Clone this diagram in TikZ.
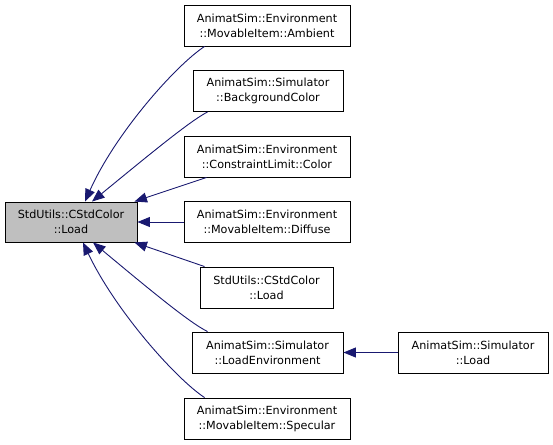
\documentclass[tikz,border=0pt]{standalone}
\usepackage{fontspec}
\setmainfont{DejaVu Sans}
\usetikzlibrary{arrows.meta}
\definecolor{edgeblue}{HTML}{191970}
\definecolor{srcgray}{HTML}{BFBFBF}
\tikzset{
  box/.style={draw=black, line width=0.9pt, fill=white, minimum height=41pt, inner sep=0pt, align=center,
    font=\fontsize{11.2}{15}\selectfont},
  edge/.style={draw=edgeblue, line width=0.9pt, -{Triangle[length=12.5pt,width=10pt]}}
}
\begin{document}
\begin{tikzpicture}[x=1pt,y=-1pt]
\useasboundingbox (0,0) rectangle (553,444);
\node[box, fill=srcgray, minimum width=132pt, minimum height=40pt] (src) at (71,222) {StdUtils::CStdColor\\::Load};
\node[box, minimum width=166pt] (amb) at (267,25.5) {AnimatSim::Environment\\::MovableItem::Ambient};
\node[box, minimum width=150pt] (bg) at (268,91) {AnimatSim::Simulator\\::BackgroundColor};
\node[box, minimum width=166pt] (col) at (267,156.5) {AnimatSim::Environment\\::ConstraintLimit::Color};
\node[box, minimum width=166pt] (dif) at (267,222) {AnimatSim::Environment\\::MovableItem::Diffuse};
\node[box, minimum width=133pt] (cstd) at (266.5,287.5) {StdUtils::CStdColor\\::Load};
\node[box, minimum width=151pt] (lenv) at (267.5,352.5) {AnimatSim::Simulator\\::LoadEnvironment};
\node[box, minimum width=166pt] (spec) at (267,418.5) {AnimatSim::Environment\\::MovableItem::Specular};
\node[box, minimum width=150pt] (sload) at (473,352.5) {AnimatSim::Simulator\\::Load};

\draw[edge] ([xshift=21pt]amb.south west) .. controls (175,66) and (115,134) .. ([xshift=14pt]src.north);
\draw[edge] ([xshift=15pt]bg.south west) .. controls (190,121) and (150,154) .. ([xshift=21pt]src.north);
\draw[edge] ([xshift=23pt]col.south west) -- ([xshift=-3pt]src.north east);
\draw[edge] (dif.west) -- (src.east);
\draw[edge] ([xshift=5pt]cstd.north west) -- ([xshift=-3pt]src.south east);
\draw[edge] ([xshift=16pt]lenv.north west) .. controls (190,323) and (150,290) .. ([xshift=22pt]src.south);
\draw[edge] ([xshift=21pt]spec.north west) .. controls (175,378) and (115,310) .. ([xshift=12pt]src.south);
\draw[edge] (sload.west) -- (lenv.east);
\end{tikzpicture}
\end{document}
